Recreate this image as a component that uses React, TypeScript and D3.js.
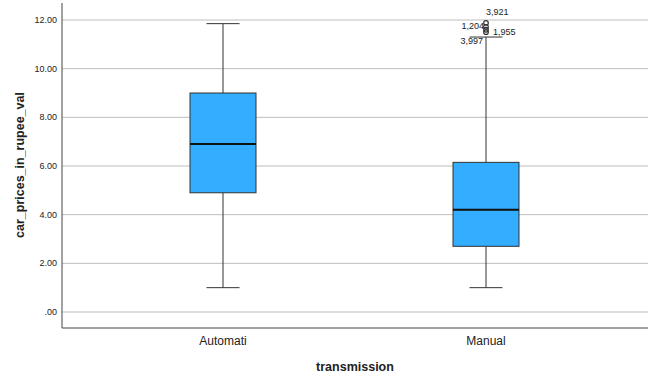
import React from "react";
import * as d3 from "d3";

const categories = ["Automati", "Manual"];
const whiskerLow = [1.0, 1.0];
const q1 = [4.9, 2.7];
const median = [6.9, 4.2];
const q3 = [9.0, 6.15];
const whiskerHigh = [11.85, 11.3];
const outlierValues = [11.88, 11.72, 11.6, 11.5];
const outlierLabels = ["3,921", "1,204", "1,955", "3,997"];
const yTicks = [0, 2, 4, 6, 8, 10, 12];

const W = 654;
const H = 385;
const left = 62;
const right = 648;
const top = 3;
const bottom = 328;

const App = () => {
  const y = d3.scaleLinear().domain([0, 12]).range([312, 20]);
  const x = d3.scaleBand().domain(categories).range([91.5, 617.5]);
  const bw = 66;
  const cap = 33;

  // outlier label offsets, SPSS style
  const labelPos = [
    { dx: 0, dy: -8, anchor: "start" },
    { dx: -2, dy: 2, anchor: "end" },
    { dx: 7, dy: 5, anchor: "start" },
    { dx: -3, dy: 12, anchor: "end" },
  ];

  return (
    <svg width={W} height={H} style={{ position: "absolute", left: 0, top: 0, background: "#fff" }}>
      <g fontFamily="'Liberation Sans', Arial, sans-serif">
        {yTicks.map((t) => (
          <g key={t}>
            <line x1={left} x2={right} y1={y(t)} y2={y(t)} stroke="#bdbdbd" strokeWidth={1} />
            <text x={57} y={y(t) + 3} textAnchor="end" fontSize={9} fill="#222">
              {d3.format(".2f")(t).replace(/^0/, "")}
            </text>
          </g>
        ))}
        <line x1={left} x2={left} y1={top} y2={bottom} stroke="#444" />
        <line x1={left} x2={right} y1={bottom} y2={bottom} stroke="#444" />

        {categories.map((c, i) => {
          const cx = x(c)! + x.bandwidth() / 2;
          return (
            <g key={c}>
              <line x1={cx} x2={cx} y1={y(whiskerHigh[i])} y2={y(q3[i])} stroke="#333" />
              <line x1={cx} x2={cx} y1={y(q1[i])} y2={y(whiskerLow[i])} stroke="#333" />
              <line x1={cx - cap / 2} x2={cx + cap / 2} y1={y(whiskerHigh[i])} y2={y(whiskerHigh[i])} stroke="#333" />
              <line x1={cx - cap / 2} x2={cx + cap / 2} y1={y(whiskerLow[i])} y2={y(whiskerLow[i])} stroke="#333" />
              <rect
                x={cx - bw / 2}
                y={y(q3[i])}
                width={bw}
                height={y(q1[i]) - y(q3[i])}
                fill="#33adff"
                stroke="#333"
                strokeWidth={1}
              />
              <line x1={cx - bw / 2} x2={cx + bw / 2} y1={y(median[i])} y2={y(median[i])} stroke="#111" strokeWidth={2} />
              <text x={cx} y={345} textAnchor="middle" fontSize={12} fill="#222">
                {c}
              </text>
            </g>
          );
        })}

        {outlierValues.map((v, i) => {
          const cx = x("Manual")! + x.bandwidth() / 2;
          const p = labelPos[i];
          return (
            <g key={i}>
              <circle cx={cx} cy={y(v)} r={2.3} fill="none" stroke="#333" strokeWidth={1.2} />
              <text
                x={cx + p.dx}
                y={y(v) + p.dy}
                textAnchor={p.anchor as any}
                fontSize={9}
                fill="#222"
              >
                {outlierLabels[i]}
              </text>
            </g>
          );
        })}

        <text x={355} y={371} textAnchor="middle" fontSize={12.5} fontWeight="bold" fill="#222">
          transmission
        </text>
        <text
          transform={`translate(24, 165) rotate(-90)`}
          textAnchor="middle"
          fontSize={12.5}
          fontWeight="bold"
          fill="#222"
        >
          car_prices_in_rupee_val
        </text>
      </g>
    </svg>
  );
};

export default App;
